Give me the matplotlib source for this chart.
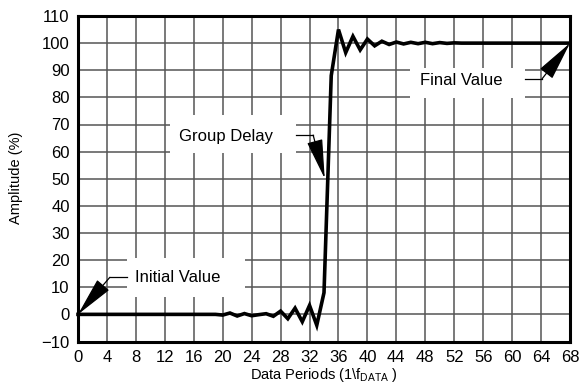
import matplotlib
matplotlib.use("Agg")
import matplotlib.pyplot as plt
from matplotlib.patches import Rectangle

plt.rcParams['font.family'] = ['Liberation Sans', 'DejaVu Sans']
plt.rcParams['mathtext.fontset'] = 'custom'
plt.rcParams['mathtext.rm'] = 'Liberation Sans'

# Data: amplitude (%) at each data period 0..68
periods = list(range(0, 69))
amplitude = ([0.0] * 19 +
             [0.0, -0.25, 0.5, -0.6, 0.3, -0.5, -0.1, 0.25, -0.7, 1.2,
              -1.6, 2.3, -2.7, 3.3, -4.0, 8.0, 88.0, 105.0, 96.5, 102.5,
              97.5, 101.5, 99.0, 100.7, 99.5, 100.4, 99.7, 100.3, 99.8, 100.3,
              99.8, 100.2, 99.9, 100.1] +
             [100.0] * 16)

x_ticks = list(range(0, 69, 4))
y_ticks = list(range(-10, 111, 10))

fig = plt.figure(figsize=(5.79, 3.85), dpi=100)
ax = fig.add_axes([78/579, 1-341.5/385, (570-78)/579, (341.5-16)/385])

ax.set_xlim(0, 68)
ax.set_ylim(-10, 110)
ax.set_xticks(x_ticks)
ax.set_yticks(y_ticks)
ax.tick_params(length=0, labelsize=12)
ax.tick_params(axis='x', pad=6)
ax.tick_params(axis='y', pad=6)
ax.grid(True, color='#555555', lw=1.1, zorder=0)
ax.set_axisbelow(True)
for s in ax.spines.values():
    s.set_linewidth(2.2)
    s.set_zorder(6)

ax.plot(periods, amplitude, color='black', lw=2.6, zorder=4, clip_on=False,
        solid_joinstyle='miter')

def label(box, text, tx, ty, hline, tip):
    x0, x1, y0, y1 = box
    ax.add_patch(Rectangle((x0, y0), x1 - x0, y1 - y0, facecolor='white',
                           edgecolor='none', zorder=2))
    ax.text(tx, ty, text, fontsize=12, va='center', ha='left', zorder=3)
    (hx0, hx1, hy) = hline
    ax.plot([hx0, hx1], [hy, hy], color='black', lw=0.9, zorder=3)
    ax.annotate('', xy=tip, xytext=(hx1, hy),
                arrowprops=dict(arrowstyle='-|>,head_length=2.5,head_width=0.5',
                                color='black', lw=0.9, shrinkA=0, shrinkB=0),
                annotation_clip=False, zorder=5)

label((6.8, 23.1, 6.3, 20.7), 'Initial Value', 7.9, 13.7, (6.8, 4.4, 13.66), (0, 0))
label((12.7, 30.1, 59.4, 73.5), 'Group Delay', 14.0, 65.6, (30.1, 32.5, 66.1), (34.1, 50.1))
label((45.9, 61.8, 79.7, 90.8), 'Final Value', 47.2, 86.3, (61.8, 64.1, 86.7), (68, 100))

fig.text(324/579, 1-375/385, 'Data Periods (1\\f$_{\\mathrm{DATA}}$ )', ha='center', va='center', fontsize=10.5)
fig.text(16/579, 1-178/385, 'Amplitude (%)', ha='center', va='center', rotation=90, fontsize=10.5)

fig.savefig('out.png', dpi=100)
